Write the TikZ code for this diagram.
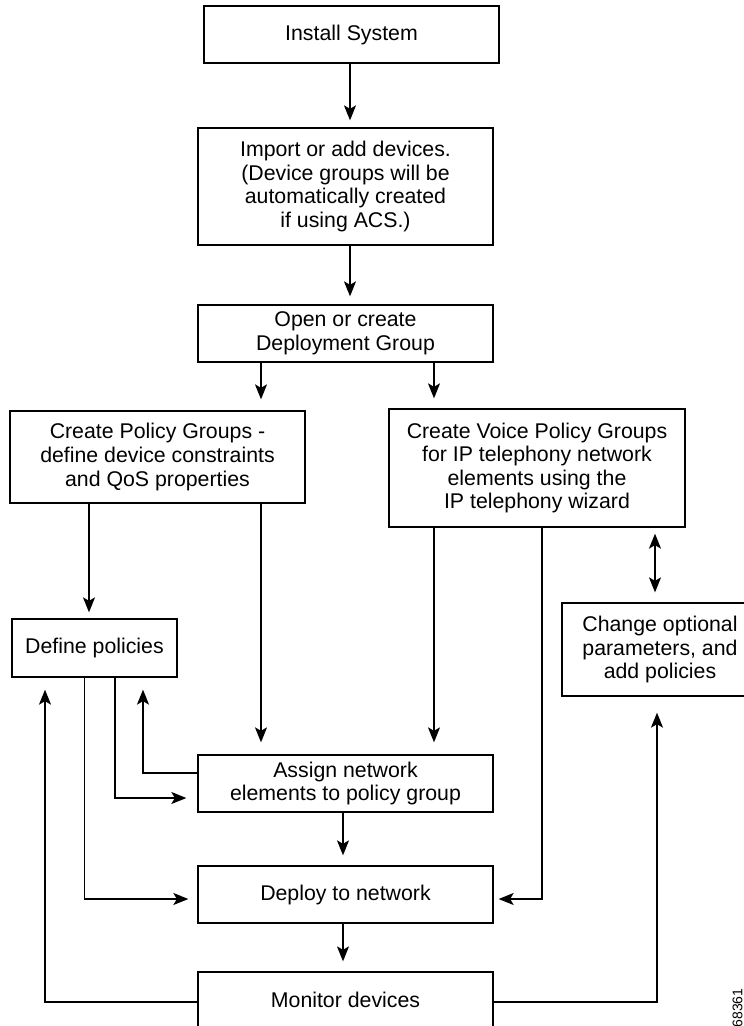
\documentclass[tikz,border=0pt]{standalone}
\usepackage{fontspec}
\setmainfont{Liberation Sans}
\usetikzlibrary{arrows.meta}
\begin{document}
\begin{tikzpicture}[x=1pt,y=-1pt,
  box/.style={draw,line width=1.3pt,inner sep=0pt,align=center,font=\fontsize{21.3}{23.6}\selectfont},
  tip/.style={-{Stealth[length=15pt,width=12pt,inset=3.5pt]}},
  arr/.style={line width=1.3pt,tip,shorten >=9pt},
  dbl/.style={line width=1.3pt,{Stealth[length=15pt,width=12pt,inset=3.5pt]}-{Stealth[length=15pt,width=12pt,inset=3.5pt]}},
  tag/.style={font=\fontsize{14}{16}\selectfont,inner sep=0pt}]
\useasboundingbox (0,0) rectangle (744,1026);
\clip (0,0) rectangle (744,1026);
% helper coordinates
\coordinate (c350) at (350,0);
\coordinate (c343) at (343,0);
\coordinate (c261) at (261,0);
\coordinate (c434) at (434,0);
\coordinate (c89) at (89,0);
\coordinate (c84) at (84.5,0);
\coordinate (c115) at (115,0);
\coordinate (c143) at (143,0);
\coordinate (c45) at (45,0);
\coordinate (c542) at (542,0);
\coordinate (c655) at (655,0);
\coordinate (c657) at (657,0);
\coordinate (r899) at (0,899);
\coordinate (r798) at (0,798);
\coordinate (r773) at (0,773);
\coordinate (r1002) at (0,1002);
% boxes
\node[box,minimum width=295pt,minimum height=57pt] (install) at (351.5,34.5) {Install System};
\node[box,minimum width=295pt,minimum height=117pt] (import) at (345.5,186.5) {Import or add devices.\\(Device groups will be\\ automatically created\\if using ACS.)};
\node[box,minimum width=295pt,minimum height=57pt] (open) at (345.5,333.5) {Open or create\\Deployment Group};
\node[box,minimum width=295pt,minimum height=92pt] (cpg) at (157.5,457) {Create Policy Groups -\\define device constraints\\and QoS properties};
\node[box,minimum width=296pt,minimum height=118pt] (cvpg) at (537,468) {Create Voice Policy Groups\\for IP telephony network\\elements using the\\IP telephony wizard};
\node[box,minimum width=165pt,minimum height=58pt] (define) at (94.5,648) {Define policies};
\node[box,minimum width=196pt,minimum height=93pt] (change) at (660,649.5) {Change optional\\parameters, and\\add policies};
\node[box,minimum width=295pt,minimum height=57pt] (assign) at (345.5,783.5) {Assign network\\elements to policy group};
\node[box,minimum width=295pt,minimum height=57pt] (deploy) at (345.5,894.5) {Deploy to network};
\node[box,minimum width=295pt,minimum height=56pt] (monitor) at (345.5,1000) {Monitor devices};
\node[tag,rotate=90] (fig) at (737.5,1008) {68361};
% connectors
\draw[arr,shorten >=7pt] (install.south -| c350) -- (import.north -| c350);
\draw[arr,shorten >=8pt] (import.south -| c350) -- (open.north -| c350);
\draw[arr,shorten >=11pt] (open.south -| c261) -- (cpg.north -| c261);
\draw[arr,shorten >=10pt] (open.south -| c434) -- (cvpg.north -| c434);
\draw[arr,shorten >=6pt] (cpg.south -| c89) -- (define.north -| c89);
\draw[arr,shorten >=12pt] (cpg.south -| c261) -- (assign.north -| c261);
\draw[arr,shorten >=12pt] (cvpg.south -| c434) -- (assign.north -| c434);
\draw[dbl,shorten <=6pt,shorten >=10pt] (cvpg.south -| c655) -- (change.north -| c655);
\draw[arr,shorten >=9pt] (define.south -| c84) |- (deploy.west |- r899);
\draw[arr,shorten >=11pt] (define.south -| c115) |- (assign.west |- r798);
\draw[arr,shorten >=12pt] (assign.west |- r773) -| (define.south -| c143);
\draw[arr,shorten >=12pt] (monitor.west |- r1002) -| (define.south -| c45);
\draw[arr,shorten >=16pt] (monitor.east |- r1002) -| (change.south -| c657);
\draw[arr,shorten >=5pt] (cvpg.south -| c542) |- (deploy.east |- r899);
\draw[arr,shorten >=10pt] (assign.south -| c343) -- (deploy.north -| c343);
\draw[arr,shorten >=10pt] (deploy.south -| c343) -- (monitor.north -| c343);
\end{tikzpicture}
\end{document}
